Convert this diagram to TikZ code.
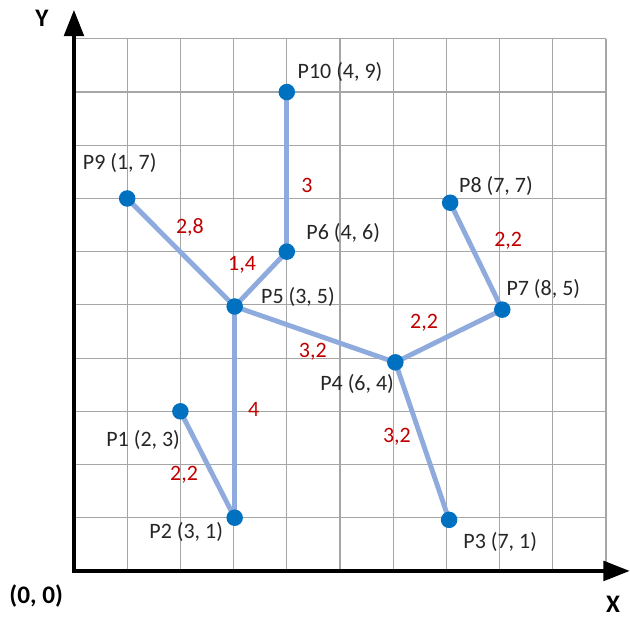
\documentclass[tikz,border=0pt]{standalone}
\usepackage{fontspec}
\setmainfont{Carlito}
\usepackage{tikz}
\usetikzlibrary{arrows.meta, positioning}

\definecolor{edgeblue}{HTML}{8FAADC}
\definecolor{dotblue}{HTML}{0070C0}
\definecolor{wtred}{HTML}{C00000}
\definecolor{gridgray}{HTML}{A6A6A6}

\pgfdeclarelayer{back}
\pgfdeclarelayer{mid}
\pgfsetlayers{back,mid,main}

\begin{document}
\begin{tikzpicture}[
every node/.style={font=\fontsize{11.75}{14}\selectfont},
ptdot/.style={circle, fill=dotblue, inner sep=0pt, minimum size=0.31cm},
ptlab/.style={text=black!85},
wtlab/.style={text=wtred},
axlab/.style={font=\bfseries\fontsize{13.5}{16}\selectfont},
link/.style={edgeblue, line width=2.6pt},
axis/.style={line width=2.6pt, -{Triangle[length=0.5cm, width=0.36cm]}}
]

\useasboundingbox (-1.39,-0.883) rectangle (10.45,10.73);

% grid and axes
\begin{pgfonlayer}{back}
\draw[gridgray, line width=0.6pt] (0,0) grid (10,10);
\draw[axis] (-0.04,0) -- (10.45,0);
\draw[axis] (0,-0.04) -- (0,10.55);
\end{pgfonlayer}

\node[axlab] (ylab) at (-0.60, 10.39) {Y};
\node[axlab] (xlab) at (10.13, -0.62) {X};
\node[axlab] (orig) at (-0.71, -0.47) {(0, 0)};

% points
\node[ptdot] (p1) at (2, 3) {};
\node[ptdot] (p2) at (3.02, 1) {};
\node[ptdot] (p3) at (7.05, 0.96) {};
\node[ptdot] (p4) at (6.04, 3.92) {};
\node[ptdot] (p5) at (3.02, 4.97) {};
\node[ptdot] (p6) at (4, 6) {};
\node[ptdot] (p7) at (8.05, 4.91) {};
\node[ptdot] (p8) at (7.07, 6.92) {};
\node[ptdot] (p9) at (1, 7) {};
\node[ptdot] (p10) at (4, 9) {};

% links
\begin{pgfonlayer}{mid}
\foreach \a/\b in {p1/p2, p2/p5, p5/p9, p5/p6, p6/p10, p5/p4, p4/p7, p7/p8, p4/p3} {
\draw[link] (\a.center) -- (\b.center);
}
\end{pgfonlayer}

% point labels
\node[ptlab] (l1) at (1.30, 2.46) {P1 (2, 3)};
\node[ptlab] (l2) at (2.11, 0.73) {P2 (3, 1)};
\node[ptlab] (l3) at (8.01, 0.55) {P3 (7, 1)};
\node[ptlab] (l4) at (5.32, 3.52) {P4 (6, 4)};
\node[ptlab] (l5) at (4.21, 5.15) {P5 (3, 5)};
\node[ptlab] (l6) at (5.06, 6.35) {P6 (4, 6)};
\node[ptlab] (l7) at (8.82, 5.30) {P7 (8, 5)};
\node[ptlab] (l8) at (7.93, 7.24) {P8 (7, 7)};
\node[ptlab] (l9) at (0.86, 7.67) {P9 (1, 7)};
\node[ptlab] (l10) at (5.00, 9.38) {P10 (4, 9)};

% weights
\node[wtlab] (w12) at (2.07, 1.80) {2,2};
\node[wtlab] (w25) at (3.38, 3.03) {4};
\node[wtlab] (w59) at (2.18, 6.45) {2,8};
\node[wtlab] (w56) at (3.16, 5.75) {1,4};
\node[wtlab] (w610) at (4.38, 7.24) {3};
\node[wtlab] (w54) at (4.49, 4.12) {3,2};
\node[wtlab] (w47) at (6.58, 4.66) {2,2};
\node[wtlab] (w78) at (8.16, 6.20) {2,2};
\node[wtlab] (w43) at (6.07, 2.52) {3,2};

\end{tikzpicture}
\end{document}
